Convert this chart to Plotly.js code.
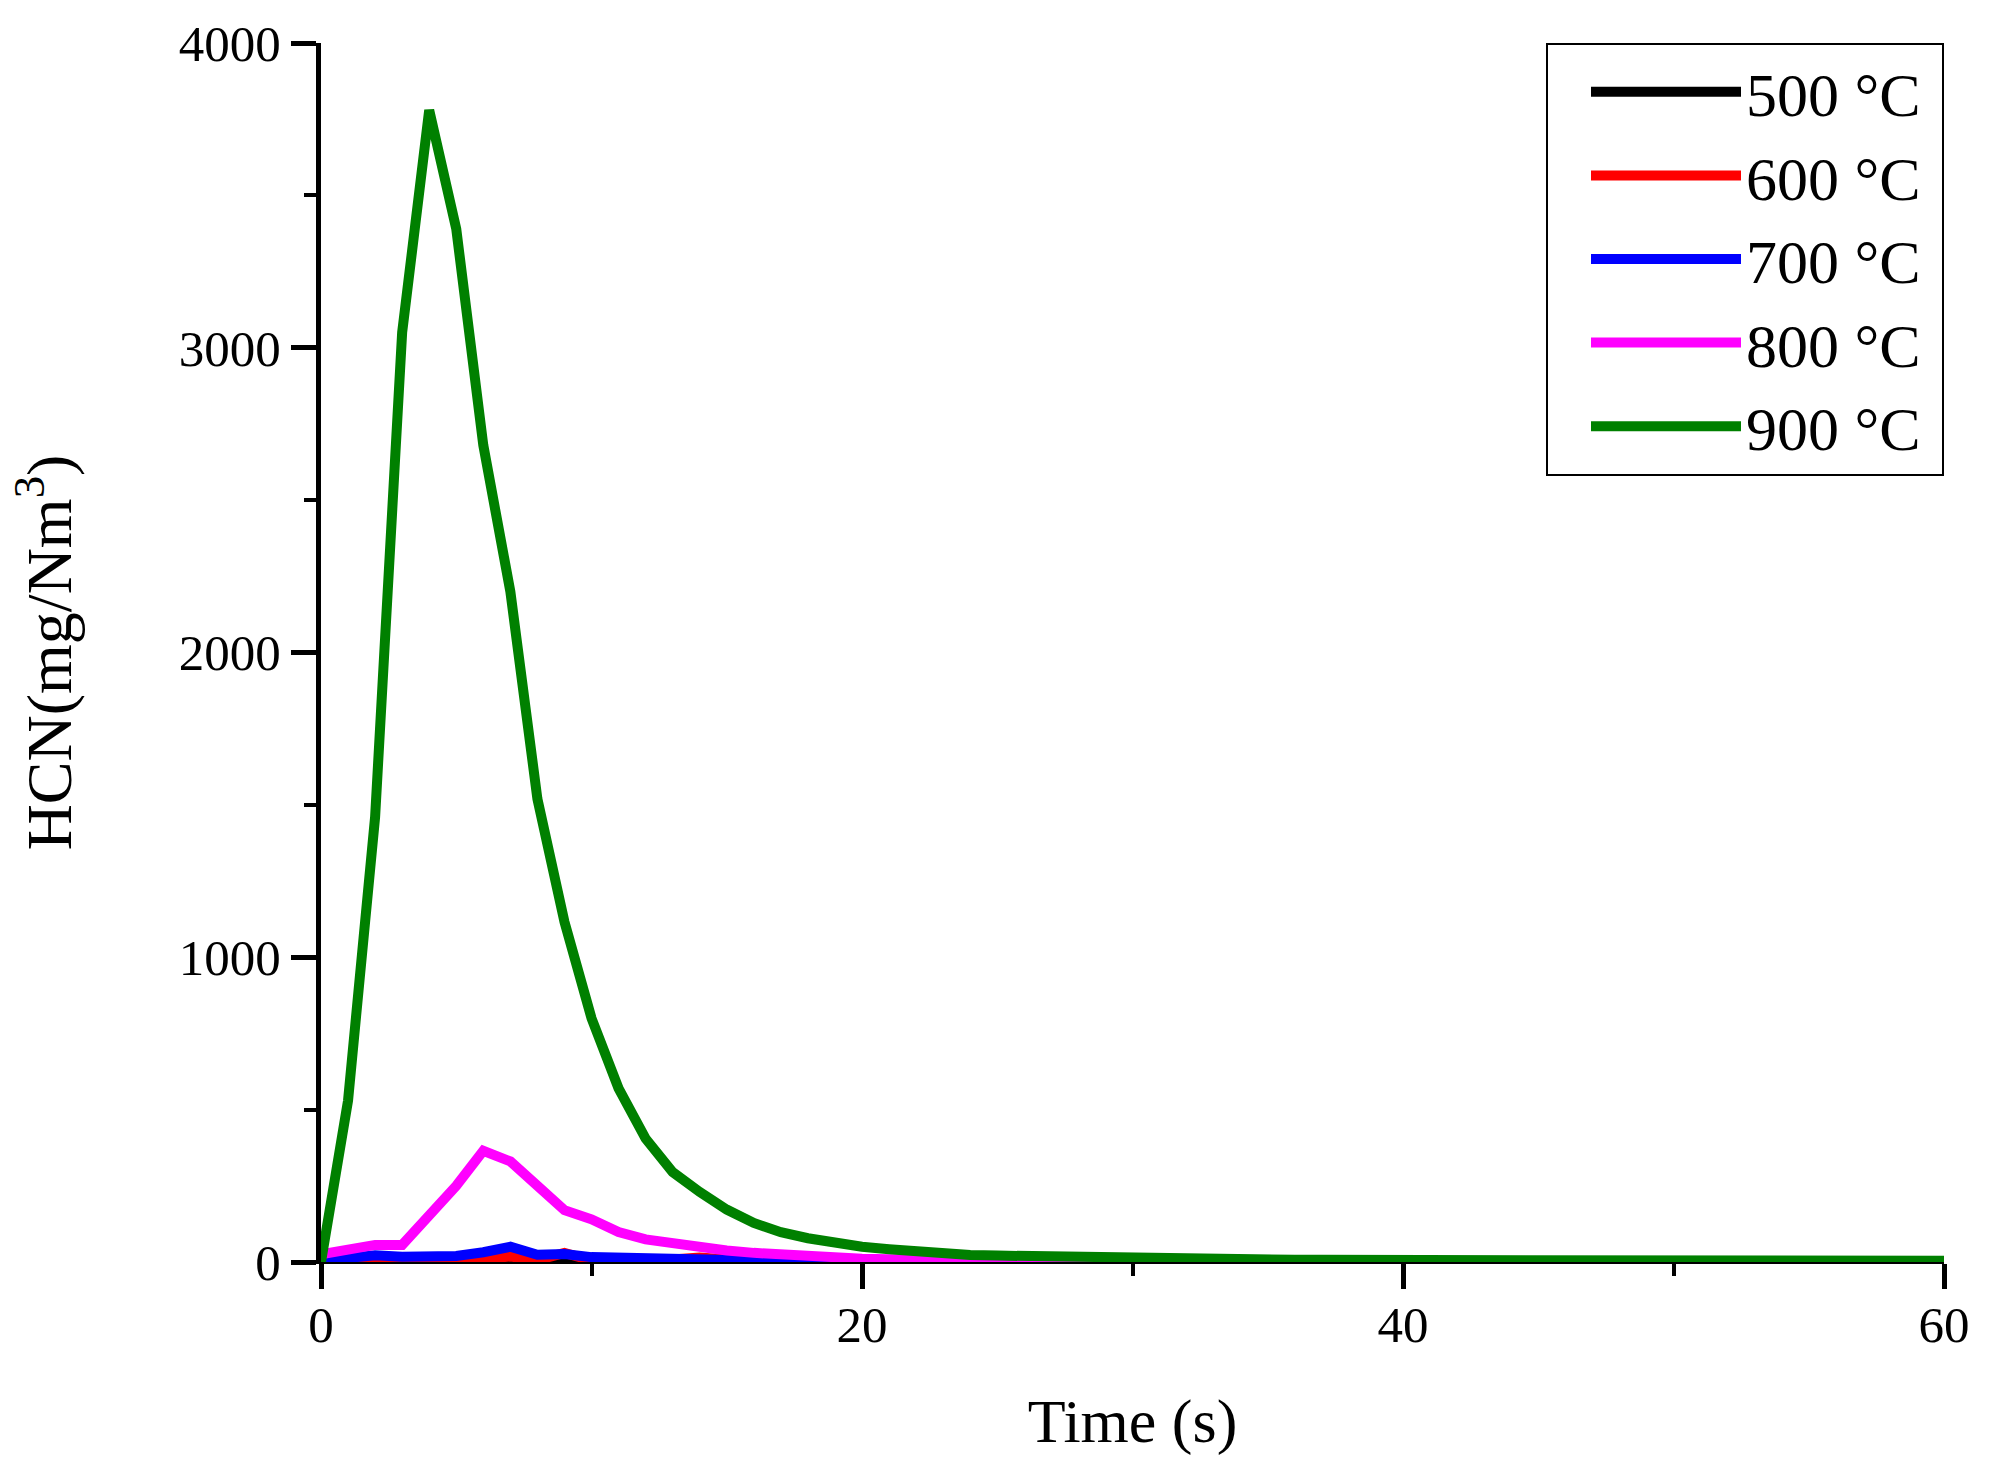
<!DOCTYPE html>
<html>
<head>
<meta charset="utf-8">
<script src="https://cdn.plot.ly/plotly-3.0.1.min.js"></script>
<style>
  html, body { margin: 0; padding: 0; background: #fff; }
  #chart { width: 2000px; height: 1476px; }
</style>
</head>
<body>
<div id="chart"></div>
<script>
'use strict';

// time axis, one reading per second
var time = [];
for (var t = 0; t <= 60; t++) time.push(t);

var labels = ['500 °C', '600 °C', '700 °C', '800 °C', '900 °C'];
var colors = ['#000000', '#ff0000', '#0000ff', '#ff00ff', '#008000'];

// HCN (mg/Nm3)
var hcn500 = [0, 0, 0, 0, 0, 0, 0, 1, 3, 6, 3, 1, 0, 0, 0, 0, 0, 0, 0, 0,
              0, 0, 0, 0, 0, 0, 0, 0, 0, 0, 0, 0, 0, 0, 0, 0, 0, 0, 0, 0,
              0, 0, 0, 0, 0, 0, 0, 0, 0, 0, 0, 0, 0, 0, 0, 0, 0, 0, 0, 0, 0];
var hcn600 = [0, 1, 1, 2, 2, 5, 10, 18, 6, 30, 5, 3, 2, 8, 15, 5, 2, 1, 0, 0,
              0, 0, 0, 0, 0, 0, 0, 0, 0, 0, 0, 0, 0, 0, 0, 0, 0, 0, 0, 0,
              0, 0, 0, 0, 0, 0, 0, 0, 0, 0, 0, 0, 0, 0, 0, 0, 0, 0, 0, 0, 0];
var hcn700 = [5, 13, 22, 17, 18, 20, 32, 50, 24, 26, 16, 13, 13, 13, 12, 8, 5, 3, 1, 0,
              0, 0, 0, 0, 0, 0, 0, 0, 0, 0, 0, 0, 0, 0, 0, 0, 0, 0, 0, 0,
              0, 0, 0, 0, 0, 0, 0, 0, 0, 0, 0, 0, 0, 2, 6, 0, 0, 0, 0, 0, 0];
var hcn800 = [25, 42, 56, 56, 155, 250, 365, 330, 250, 170, 140, 98, 74, 60, 48, 38, 30, 24, 19, 15,
              11, 9, 8, 7, 6, 5, 4, 2, 1, 0, 0, 0, 0, 0, 0, 0, 0, 0, 0, 0,
              0, 0, 0, 0, 0, 0, 0, 0, 0, 0, 0, 6, 6, 6, 0, 0, 0, 0, 0, 0, 0];
var hcn900 = [0, 530, 1460, 3050, 3780, 3390, 2680, 2200, 1520, 1116, 800, 570, 405, 295, 230, 172, 128, 98, 78, 62,
              50, 42, 34, 27, 23, 21, 19, 17, 15, 13, 12, 11, 10, 9, 8, 8, 7, 7, 7, 6,
              6, 6, 6, 5, 5, 5, 5, 4, 3, 3, 3, 3, 3, 3, 4, 4, 4, 4, 4, 4, 4];

var series = [hcn500, hcn600, hcn700, hcn800, hcn900];

var FONT = '"Liberation Serif", "Times New Roman", serif';

var data = series.map(function(values, i) {
    return {
        x: time,
        y: values,
        // trailing no-break space gives the legend box some right padding
        name: labels[i] + '\u00a0',
        type: 'scatter',
        mode: 'lines',
        line: { color: colors[i], width: 10 }
    };
});

var layout = {
    width: 2000,
    height: 1476,
    paper_bgcolor: '#ffffff',
    plot_bgcolor: '#ffffff',
    margin: { l: 321, r: 56, t: 43, b: 214 },
    font: { family: FONT, color: '#000', size: 50 },
    showlegend: true,
    legend: {
        x: 1, xanchor: 'right',
        y: 1, yanchor: 'top',
        bordercolor: '#000',
        borderwidth: 2,
        bgcolor: '#fff',
        font: { family: FONT, size: 62, color: '#000' },
        itemwidth: 150,
        indentation: 38,
        tracegroupgap: 0
    },
    xaxis: {
        range: [0, 60],
        dtick: 20,
        showgrid: false,
        zeroline: false,
        showline: true,
        linecolor: '#000',
        linewidth: 2,
        ticks: 'outside',
        ticklen: 25,
        tickwidth: 5,
        tickcolor: '#000',
        ticklabelstandoff: -8,
        minor: { dtick: 10, ticks: 'outside', ticklen: 12, tickwidth: 4, tickcolor: '#000', showgrid: false },
        tickfont: { family: FONT, size: 51 },
        title: { text: 'Time (s)', font: { family: FONT, size: 62 }, standoff: 46 },
        layer: 'below traces'
    },
    yaxis: {
        range: [0, 4000],
        dtick: 1000,
        showgrid: false,
        zeroline: false,
        showline: true,
        linecolor: '#000',
        linewidth: 5,
        ticks: 'outside',
        ticklen: 25,
        tickwidth: 5,
        tickcolor: '#000',
        minor: { dtick: 500, ticks: 'outside', ticklen: 12, tickwidth: 4, tickcolor: '#000', showgrid: false },
        tickfont: { family: FONT, size: 51 },
        title: { text: 'HCN(mg/Nm<sup>3</sup>)', font: { family: FONT, size: 64 }, standoff: 88 },
        layer: 'below traces'
    }
};

Plotly.newPlot('chart', data, layout, { staticPlot: true });
</script>
</body>
</html>
